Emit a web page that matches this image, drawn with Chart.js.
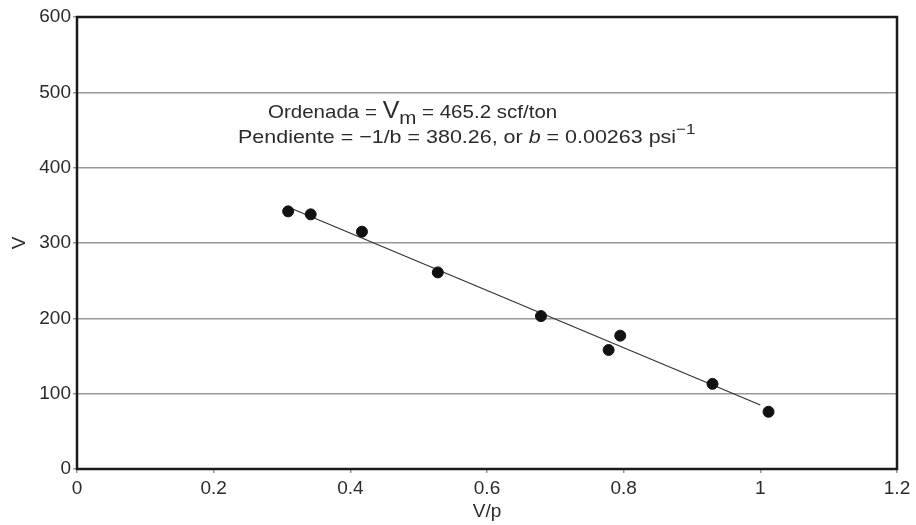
<!DOCTYPE html>
<html lang="es">
<head>
  <meta charset="UTF-8">
  <title>V vs V/p</title>
  <script src="https://cdn.jsdelivr.net/npm/chart.js"></script>
  <style>
    body {
      margin: 0;
      padding: 0;
      background-color: #ffffff;
    }
    #wrap {
      width: 916px;
      height: 525px;
    }
  </style>
</head>
<body>
  <div id="wrap">
    <canvas id="langmuirChart" width="916" height="525"></canvas>
  </div>

  <script>
    // Datos medidos
    const vpValues = [0.309, 0.342, 0.417, 0.528, 0.679, 0.778, 0.795, 0.930, 1.012];
    const vValues = [342, 338, 315, 261, 203, 158, 177, 113, 76];

    // Recta de ajuste: V = Vm - (1/b) * V/p
    const ordenada = 465.2;
    const pendiente = 380.26;
    const rectaX = [0.313, 1.0];
    const rectaY = rectaX.map(x => ordenada - pendiente * x);

    const xTicks = [0, 0.2, 0.4, 0.6, 0.8, 1, 1.2];
    const yTicks = [0, 100, 200, 300, 400, 500, 600];

    const FONT = 'Liberation Sans, Arial, Helvetica, sans-serif';
    const TEXT = '#2b2b2b';

    // Marco del área de gráfico y texto con los parámetros del ajuste
    const marcoYTexto = {
      id: 'marcoYTexto',
      afterDraw(chart) {
        const ctx = chart.ctx;
        const a = chart.chartArea;
        ctx.save();
        ctx.strokeStyle = '#1a1a1a';
        ctx.lineWidth = 2.5;
        ctx.strokeRect(a.left, a.top, a.right - a.left, a.bottom - a.top);

        ctx.fillStyle = TEXT;
        ctx.textBaseline = 'alphabetic';
        ctx.textAlign = 'left';

        // texto algo ensanchado en horizontal
        let sx = 1.13;
        let x, y;
        const put = (txt, font, dy = 0) => {
          ctx.font = font;
          ctx.save();
          ctx.translate(x, y + dy);
          ctx.scale(sx, 1);
          ctx.fillText(txt, 0, 0);
          ctx.restore();
          x += ctx.measureText(txt).width * sx;
        };

        // Línea 1
        sx = 1.08;
        x = 268; y = 118;
        put('Ordenada = ', '19px ' + FONT);
        put('V', '23px ' + FONT);
        put('m', '19px ' + FONT, 6);
        put(' = 465.2 scf/ton', '19px ' + FONT);

        // Línea 2
        sx = 1.13;
        x = 238; y = 143;
        put('Pendiente = \u22121/b = 380.26, or ', '19px ' + FONT);
        put('b', 'italic 19px ' + FONT);
        put(' = 0.00263 psi', '19px ' + FONT);
        put('\u22121', '15px ' + FONT, -9);
        ctx.restore();
      }
    };

    new Chart(document.getElementById('langmuirChart'), {
      type: 'scatter',
      data: {
        datasets: [
          {
            label: 'Ajuste',
            type: 'line',
            data: rectaX.map((x, i) => ({ x: x, y: rectaY[i] })),
            borderColor: '#333333',
            borderWidth: 1.2,
            pointRadius: 0,
            fill: false,
            order: 2
          },
          {
            label: 'V',
            data: vpValues.map((x, i) => ({ x: x, y: vValues[i] })),
            backgroundColor: '#111111',
            borderColor: '#111111',
            pointRadius: 5.5,
            order: 1
          }
        ]
      },
      options: {
        responsive: false,
        animation: false,
        layout: {
          padding: { top: 17, right: 19, left: 0, bottom: 0 }
        },
        plugins: {
          legend: { display: false },
          tooltip: { enabled: false }
        },
        scales: {
          x: {
            type: 'linear',
            min: 0,
            max: 1.2,
            afterBuildTicks: axis => { axis.ticks = xTicks.map(v => ({ value: v })); },
            afterFit: axis => { axis.height = 56; },
            grid: {
              drawOnChartArea: false,
              drawTicks: true,
              tickLength: 4,
              tickColor: '#999999',
              lineWidth: 1.5
            },
            border: { display: false },
            ticks: {
              color: TEXT,
              padding: 4,
              font: { family: FONT, size: 19 },
              maxRotation: 0,
              callback: v => String(v)
            },
            title: {
              display: true,
              text: 'V/p',
              color: TEXT,
              padding: { top: 0, bottom: 2 },
              font: { family: FONT, size: 19 }
            }
          },
          y: {
            type: 'linear',
            min: 0,
            max: 600,
            afterBuildTicks: axis => { axis.ticks = yTicks.map(v => ({ value: v })); },
            afterFit: axis => { axis.width = 77; },
            grid: {
              color: '#999999',
              lineWidth: 1.5,
              drawTicks: true,
              tickLength: 4,
              tickColor: '#999999'
            },
            border: { display: false },
            ticks: {
              color: TEXT,
              padding: 2,
              font: { family: FONT, size: 19 }
            },
            title: {
              display: true,
              text: 'V',
              color: TEXT,
              padding: { top: 8, bottom: 0 },
              font: { family: FONT, size: 19 }
            }
          }
        }
      },
      plugins: [marcoYTexto]
    });
  </script>
</body>
</html>
